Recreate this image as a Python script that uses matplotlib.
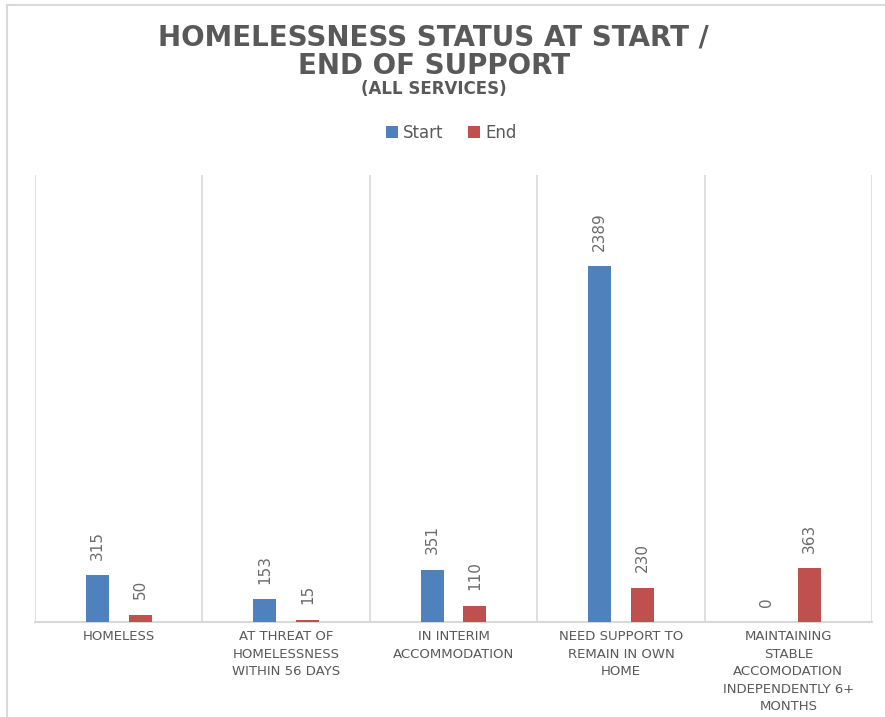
import numpy as np
import matplotlib.pyplot as plt
from matplotlib.patches import Rectangle

categories = [
    "HOMELESS",
    "AT THREAT OF\nHOMELESSNESS\nWITHIN 56 DAYS",
    "IN INTERIM\nACCOMMODATION",
    "NEED SUPPORT TO\nREMAIN IN OWN\nHOME",
    "MAINTAINING\nSTABLE\nACCOMODATION\nINDEPENDENTLY 6+\nMONTHS",
]
start = [315, 153, 351, 2389, 0]
end = [50, 15, 110, 230, 363]

text_grey = "#595959"
grid_grey = "#d9d9d9"
blue = "#4F81BD"
red = "#C0504D"

fig = plt.figure(figsize=(8.85, 7.17), dpi=100)
ax = fig.add_axes([35 / 885, 1 - 622 / 717, 837 / 885, 447 / 717])

# outer chart frame
fig.patches.append(Rectangle((7 / 885, -0.1), 1.2, 1.1 - 5 / 717, transform=fig.transFigure,
                             fill=False, edgecolor=grid_grey, linewidth=1.5))

x = np.arange(len(categories))
w = 0.137
off = 0.128
b1 = ax.bar(x - off, start, w, color=blue, label="Start", zorder=3)
b2 = ax.bar(x + off, end, w, color=red, label="End", zorder=3)

# rotated value labels above each bar
for bars, vals in ((b1, start), (b2, end)):
    for rect, v in zip(bars, vals):
        ax.annotate(str(v), (rect.get_x() + rect.get_width() / 2, v),
                    xytext=(0, 11), textcoords="offset points",
                    rotation=90, ha="center", va="bottom",
                    fontsize=11, color="#6b6b6b")

ax.set_xlim(-0.5, len(categories) - 0.5)
ax.set_ylim(0, 3000)
for b in np.arange(-0.5, len(categories), 1.0):
    ax.axvline(b, color=grid_grey, linewidth=1.2, zorder=1)

ax.set_yticks([])
ax.set_xticks(x)
ax.set_xticklabels(categories, fontsize=9.5, color=text_grey, linespacing=1.45)
ax.tick_params(axis="x", length=0, pad=6)
for s in ("top", "left", "right"):
    ax.spines[s].set_visible(False)
ax.spines["bottom"].set_color(grid_grey)
ax.spines["bottom"].set_linewidth(1.5)

fig.text(0.49, 1 - 38 / 717, "HOMELESSNESS STATUS AT START /", ha="center", va="center",
         fontsize=20, fontweight="bold", color=text_grey)
fig.text(0.49, 1 - 66 / 717, "END OF SUPPORT", ha="center", va="center",
         fontsize=20, fontweight="bold", color=text_grey)
fig.text(0.49, 1 - 89 / 717, "(ALL SERVICES)", ha="center", va="center",
         fontsize=12, fontweight="bold", color=text_grey)

fig.legend(handles=[b1, b2], loc="center", bbox_to_anchor=(0.51, 1 - 133 / 717),
           ncol=2, frameon=False, fontsize=12, labelcolor=text_grey,
           handlelength=0.7, handleheight=0.7, handletextpad=0.3, columnspacing=1.5)

fig.savefig("out.png", dpi=100)
